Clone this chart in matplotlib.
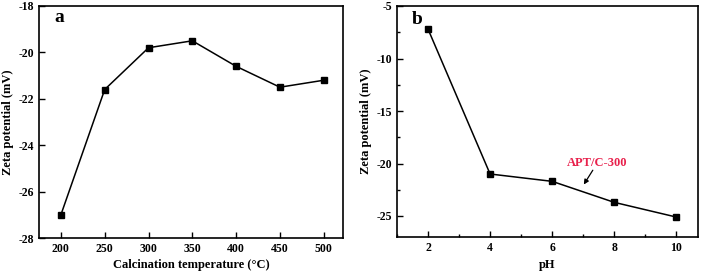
import matplotlib
matplotlib.use("Agg")
import matplotlib.pyplot as plt
from matplotlib.ticker import MultipleLocator

temps = [200, 250, 300, 350, 400, 450, 500]
zeta_a = [-27.0, -21.6, -19.8, -19.5, -20.6, -21.5, -21.2]
ph = [2, 4, 6, 8, 10]
zeta_b = [-7.2, -21.0, -21.7, -23.7, -25.1]

plt.rcParams['font.family'] = ['Liberation Serif', 'DejaVu Serif']
plt.rcParams['font.weight'] = 'bold'
plt.rcParams['axes.unicode_minus'] = False

fig = plt.figure(figsize=(7.10, 2.73), dpi=100)
W, H = 710, 273
ax1 = fig.add_axes([39/W, 1-238/H, (343-39)/W, (238-6)/H])
ax2 = fig.add_axes([397/W, 1-237/H, (698-397)/W, (237-6)/H])

for ax in (ax1, ax2):
    for s in ax.spines.values():
        s.set_linewidth(1.2)
    ax.tick_params(direction='in', length=4, width=1, labelsize=8.5, top=False, right=False)
    ax.tick_params(which='minor', direction='in', length=2, width=1, top=False, right=False)

ax1.plot(temps, zeta_a, color='black', lw=1.1, marker='s', ms=4.5)
ax1.set_xlim(175, 522)
ax1.set_ylim(-28, -18)
ax1.set_xticks(temps)
ax1.set_yticks([-28, -26, -24, -22, -20, -18])
ax1.set_xlabel('Calcination temperature (°C)', fontsize=9, fontweight='bold', labelpad=3)
ax1.set_ylabel('Zeta potential (mV)', fontsize=9, fontweight='bold', labelpad=3)
ax1.text(0.065, 0.95, 'a', transform=ax1.transAxes, fontsize=14, fontweight='bold', va='center', ha='center')

ax2.plot(ph, zeta_b, color='black', lw=1.1, marker='s', ms=4.5)
ax2.set_xlim(1, 10.7)
ax2.set_ylim(-27, -5)
ax2.set_xticks(ph)
ax2.set_yticks([-25, -20, -15, -10, -5])
ax2.xaxis.set_minor_locator(MultipleLocator(1))
ax2.yaxis.set_minor_locator(MultipleLocator(2.5))
ax2.set_xlabel('pH', fontsize=9, fontweight='bold', labelpad=4)
ax2.set_ylabel('Zeta potential (mV)', fontsize=9, fontweight='bold', labelpad=3)
ax2.text(0.066, 0.94, 'b', transform=ax2.transAxes, fontsize=14, fontweight='bold', va='center', ha='center')
ax2.text(7.46, -20.0, 'APT/C-300', color='#e8214c', fontsize=9, fontweight='bold',
         ha='center', va='center')
ax2.annotate('', xy=(7.02, -22.0), xytext=(7.31, -20.64),
             arrowprops=dict(arrowstyle='-|>', color='black', lw=0.9, mutation_scale=7,
                             shrinkA=0, shrinkB=0))

for ax in (ax1, ax2):
    for lab in ax.get_xticklabels() + ax.get_yticklabels():
        lab.set_fontweight('bold')

fig.savefig('out.png', dpi=100)
